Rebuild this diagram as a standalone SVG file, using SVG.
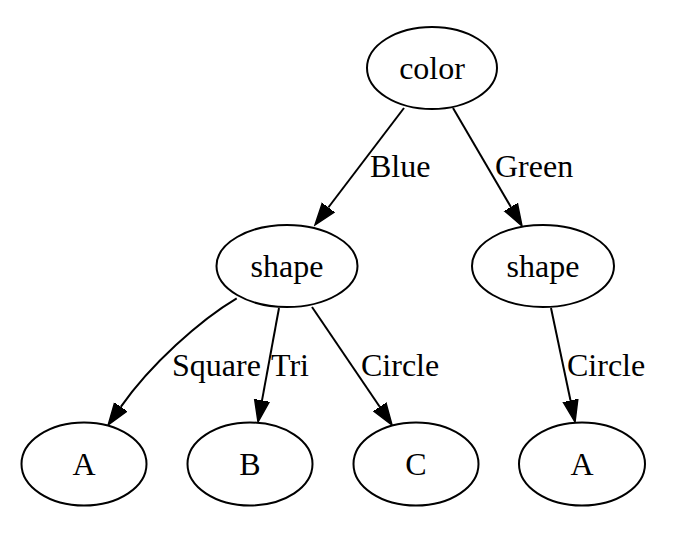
<svg xmlns="http://www.w3.org/2000/svg" width="682" height="554" viewBox="0 0 682 554">
<defs>
<style>
.node ellipse{fill:#fff;stroke:#000;stroke-width:2}
.node text{font-family:"Liberation Serif",serif;font-size:32px;text-anchor:middle;fill:#000}
.edge path{fill:none;stroke:#000;stroke-width:2}
.lbl{font-family:"Liberation Serif",serif;font-size:32px;fill:#000}
</style>
<marker id="arr" markerUnits="userSpaceOnUse" markerWidth="24" markerHeight="18" refX="0" refY="9" orient="auto" viewBox="0 0 24 18">
<path d="M0,1.5 L22,9 L0,16.5 z" fill="#000" stroke="#000" stroke-width="1.5"/>
</marker>
</defs>
<rect width="682" height="554" fill="#fff"/>
<g id="edges" class="edge">
<path d="M404,108 L328.3,207.5" marker-end="url(#arr)"/>
<path d="M453,108 L510.9,207" marker-end="url(#arr)"/>
<path d="M236.7,298.3 C200,320 150,365 120.8,406.9" marker-end="url(#arr)"/>
<path d="M279,308 L262,400.4" marker-end="url(#arr)"/>
<path d="M312,307 L379.7,406.8" marker-end="url(#arr)"/>
<path d="M551,308 L570.5,400.5" marker-end="url(#arr)"/>
<text class="lbl" x="370" y="177">Blue</text>
<text class="lbl" x="495" y="177">Green</text>
<text class="lbl" x="172" y="376">Square</text>
<text class="lbl" x="271" y="376">Tri</text>
<text class="lbl" x="361" y="376">Circle</text>
<text class="lbl" x="567" y="376">Circle</text>
</g>
<g id="color" class="node"><ellipse cx="432" cy="68" rx="65" ry="41"/><text x="432" y="79">color</text></g>
<g id="shape1" class="node"><ellipse cx="287" cy="266" rx="70.5" ry="41"/><text x="287" y="277">shape</text></g>
<g id="shape2" class="node"><ellipse cx="543" cy="266" rx="71" ry="41"/><text x="543" y="277">shape</text></g>
<g id="A1" class="node"><ellipse cx="84" cy="464" rx="62.5" ry="41.5"/><text x="84" y="475">A</text></g>
<g id="B" class="node"><ellipse cx="250" cy="464" rx="62.5" ry="41.5"/><text x="250" y="475">B</text></g>
<g id="C" class="node"><ellipse cx="416" cy="464" rx="62.5" ry="41.5"/><text x="416" y="475">C</text></g>
<g id="A2" class="node"><ellipse cx="582" cy="464" rx="63" ry="41.5"/><text x="582" y="475">A</text></g>
</svg>
